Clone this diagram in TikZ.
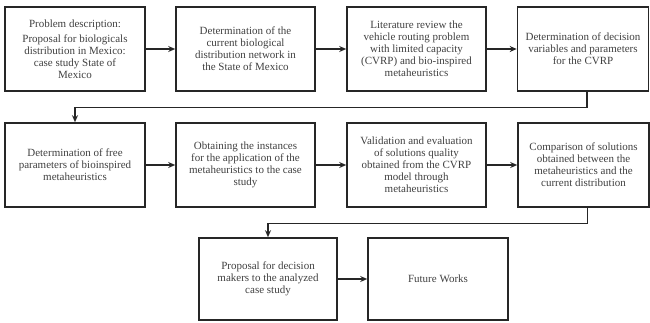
\documentclass[tikz,border=0pt]{standalone}
\usepackage{fontspec}
\setmainfont{Liberation Serif}
\usetikzlibrary{arrows.meta}
\tikzset{
  stagebox/.style={draw=black!85,line width=1.6bp,align=center,inner sep=2bp,
    minimum height=84bp,font=\fontsize{11bp}{12bp}\selectfont,text=black!75},
  link/.style={draw=black!85,line width=1.3bp,-{Stealth[length=7bp,width=6bp]}}
}
\begin{document}
\begin{tikzpicture}[x=1bp,y=-1bp]
\useasboundingbox (0,0) rectangle (650,322);
% first row
\node[stagebox,minimum width=140bp] (prob) at (75,49) {Problem description:\\[3bp]Proposal for biologicals\\distribution in Mexico:\\case study State of\\Mexico};
\node[stagebox,minimum width=139bp] (curr) at (245.5,49) {Determination of the\\current biological\\distribution network in\\the State of Mexico};
\node[stagebox,minimum width=139bp] (lit) at (416.5,49) {Literature review the\\vehicle routing problem\\with limited capacity\\(CVRP) and bio-inspired\\metaheuristics};
\node[stagebox,minimum width=131bp] (vars) at (583,49) {Determination of decision\\variables and parameters\\for the CVRP};
% second row
\node[stagebox,minimum width=140bp] (free) at (75,165) {Determination of free\\parameters of bioinspired\\metaheuristics};
\node[stagebox,minimum width=139bp] (inst) at (245.5,165) {Obtaining the instances\\for the application of the\\metaheuristics to the case\\study};
\node[stagebox,minimum width=139bp] (valid) at (416.5,165) {Validation and evaluation\\of solutions quality\\obtained from the CVRP\\model through\\metaheuristics};
\node[stagebox,minimum width=131bp] (comp) at (583.5,165) {Comparison of solutions\\obtained between the\\metaheuristics and the\\current distribution};
% third row
\node[stagebox,minimum width=138bp,minimum height=82bp] (dec) at (268,279) {Proposal for decision\\makers to the analyzed\\case study};
\node[stagebox,minimum width=140bp,minimum height=82bp] (fut) at (438,279) {Future Works};
% connectors
\draw[link] (prob) -- (curr);
\draw[link] (curr) -- (lit);
\draw[link] (lit) -- (vars);
\draw[link] ([xshift=4bp]vars.south) -- ++(0,16) -| (free.north);
\draw[link] (free) -- (inst);
\draw[link] (inst) -- (valid);
\draw[link] (valid) -- (comp);
\draw[link] ([xshift=4bp]comp.south) -- ++(0,16) -| (dec.north);
\draw[link] (dec) -- (fut);
\end{tikzpicture}
\end{document}
